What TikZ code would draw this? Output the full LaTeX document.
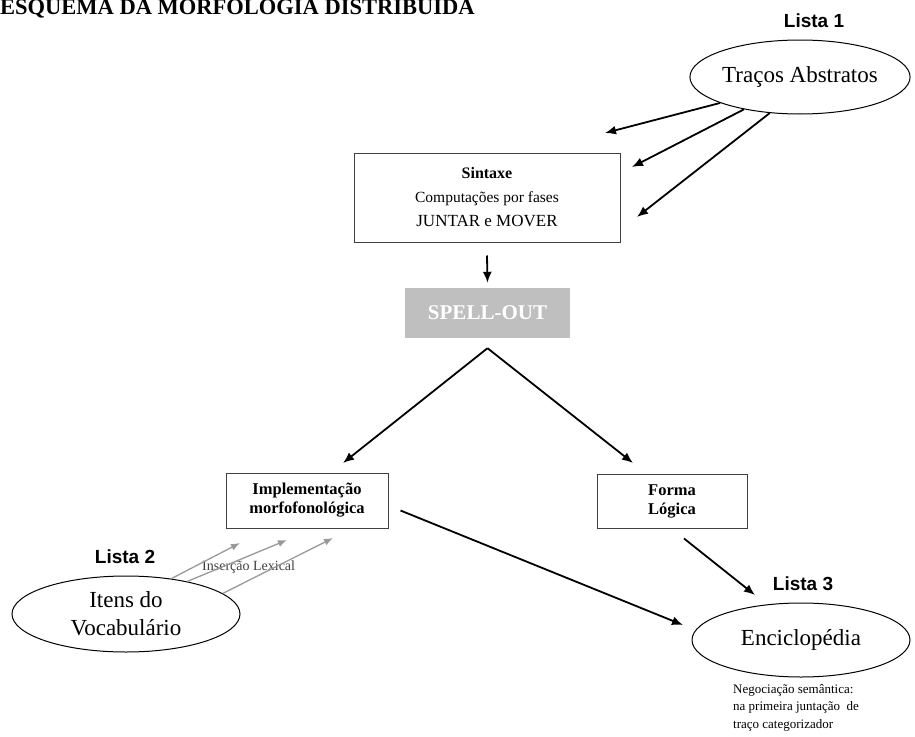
\documentclass[tikz,border=0pt]{standalone}
\usepackage{fontspec}
\setmainfont{Liberation Serif}
\newfontfamily\listfont{Liberation Sans}
\usetikzlibrary{arrows.meta,shapes.geometric}
\begin{document}
\begin{tikzpicture}[x=1pt,y=-1pt,
  arr/.style={line width=1.8pt,-{Latex[length=11pt,width=9pt]}},
  garr/.style={line width=1.3pt,color=black!40,-{Latex[length=9pt,width=7pt]}},
  ell/.style={ellipse,draw,line width=1pt,inner sep=0pt,align=center,font=\fontsize{23}{28}\selectfont},
  boxn/.style={draw,line width=1pt,color=black!75,text=black,inner sep=0pt,align=center},
  lista/.style={font=\listfont\bfseries\fontsize{19}{22}\selectfont,inner sep=0pt}
]
\useasboundingbox (0,0) rectangle (915,736);

% title
\node[anchor=base west,inner sep=0pt,font=\bfseries\fontsize{22.5}{26}\selectfont] (title) at (0,14) {ESQUEMA DA MORFOLOGIA DISTRIBUIDA};

% Lista 1
\node[lista] (l1) at (814,21) {Lista 1};
\node[ell,minimum width=216pt,minimum height=74pt] (tracos) at (800,77) {Traços Abstratos};

% Sintaxe
\node[boxn,minimum width=266pt,minimum height=89pt,font=\fontsize{15.5}{24}\selectfont] (sint) at (487,197.5)
  {{\fontsize{16}{24}\selectfont\textbf{Sintaxe}}\\Computações por fases\\{\fontsize{17}{24}\selectfont JUNTAR e MOVER}};

\coordinate (t1) at (605,133);
\coordinate (t2) at (632,167);
\coordinate (t3) at (637,217);
\draw[arr] (tracos.198) -- (t1);
\draw[arr] (tracos.210) -- (t2);
\draw[arr] (tracos.230) -- (t3);

% SPELL-OUT
\node[fill=black!25,minimum width=165pt,minimum height=50pt,inner sep=0pt,text=white,font=\bfseries\fontsize{21}{24}\selectfont] (spell) at (487.5,313) {SPELL-OUT};
\draw[arr] ([yshift=-13pt]sint.south) -- ([yshift=5pt]spell.north);

\coordinate (apex) at ([yshift=-10pt]spell.south);
\coordinate (tl) at (343,463);
\coordinate (tr) at (633,463);
\draw[arr] (apex) -- (tl);
\draw[arr] (apex) -- (tr);

% lower boxes
\node[boxn,minimum width=162pt,minimum height=55pt,font=\bfseries\fontsize{16.5}{19}\selectfont] (impl) at (307,500.5)
  {Implementação\\morfofonológica};
\node[boxn,minimum width=150pt,minimum height=54pt,font=\bfseries\fontsize{16.5}{19}\selectfont] (forma) at (672,501)
  {Forma\\Lógica};

% Lista 3 / Enciclopedia
\node[lista] (l3) at (803,584) {Lista 3};
\node[ell,minimum width=218pt,minimum height=74pt] (encl) at (801,640) {Enciclopédia};
\node[anchor=north west,inner sep=0pt,align=left,font=\fontsize{13}{17.5}\selectfont] (nota) at (733,684)
  {Negociação semântica:\\na primeira juntação\ \ de\\traço categorizador};

\coordinate (e1) at (683,625);
\coordinate (e2) at (755,595);
\draw[arr] ([xshift=12pt,yshift=-10pt]impl.east) -- (e1);
\draw[arr] ([xshift=12pt,yshift=-10pt]forma.south) -- (e2);

% Lista 2
\node[lista] (l2) at (125,557) {Lista 2};
\node[ell,minimum width=228pt,minimum height=76pt] (itens) at (126,614) {Itens do\\Vocabulário};
\node[anchor=west,inner sep=0pt,font=\fontsize{14}{16}\selectfont,text=black!75] (ins) at (202,567) {Inserção Lexical};

\coordinate (g1) at (240,543);
\coordinate (g2) at (287,540);
\coordinate (g3) at (333,538);
\draw[garr] (itens.38) -- (g1);
\draw[garr] (itens.28) -- (g2);
\draw[garr] (itens.12) -- (g3);
\end{tikzpicture}
\end{document}
